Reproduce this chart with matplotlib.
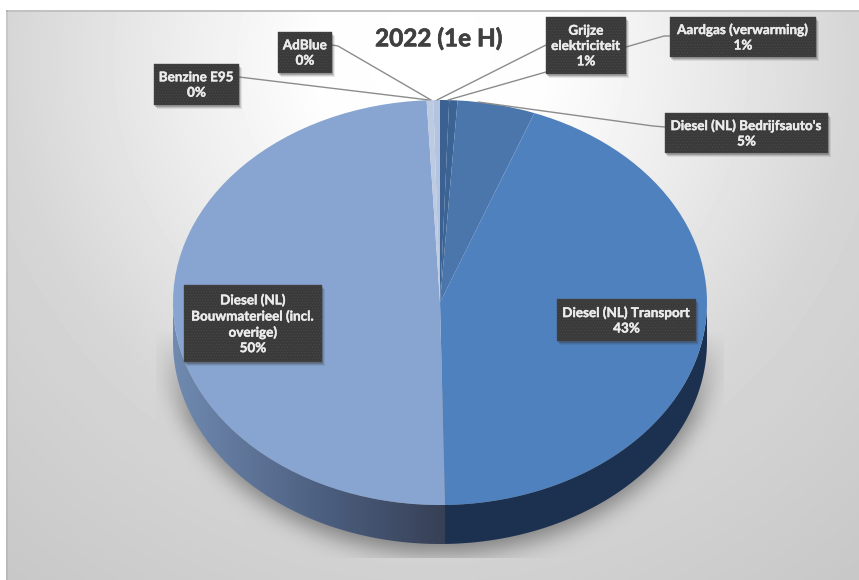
import numpy as np
import matplotlib
matplotlib.use("Agg")
import matplotlib.pyplot as plt
import matplotlib.patheffects as pe
from matplotlib.patches import Rectangle, Polygon

plt.rcParams['font.family'] = ['Lato', 'DejaVu Sans']

# ---- data -------------------------------------------------------------
categories = ["Aardgas (verwarming)", "Grijze\nelektriciteit", "Diesel (NL) Bedrijfsauto's",
              "Diesel (NL) Transport", "Diesel (NL)\nBouwmaterieel (incl.\noverige)",
              "Benzine E95", "AdBlue"]
values = [0.55, 0.5, 4.7, 43.95, 49.5, 0.4, 0.4]
percent_labels = ["1%", "1%", "5%", "43%", "50%", "0%", "0%"]
colors = ["#3a6191", "#3b6394", "#4a76ac", "#4f81bf", "#88a5d1", "#bccae2", "#b4c3de"]
title = "2022 (1e H)"

# ---- layout (pixels) ---------------------------------------------------
W, H = 859, 580
CX, CY, RX, RY, DEPTH = 440, 302.5, 267, 202.5, 39
boxes = [(670, 17, 816, 57), (546, 17, 626, 74), (665, 113, 828, 153),
         (557, 299, 696, 341), (184, 285, 322, 362), (154, 64, 239, 105), (278, 32, 332, 73)]
leaders = [[(670, 36), (664, 36), (626, 47), (546, 45), (437, 100)],
           [(546, 72), (448, 100)],
           [(665, 127), (653, 126), (478, 102)],
           [(239, 77), (429, 100)],
           [(332, 45), (338, 46), (431, 100)]]

fig = plt.figure(figsize=(W / 100, H / 100), dpi=100, facecolor="white")

# ---- background with radial gradient and shadow ------------------------
yy, xx = np.mgrid[0:H, 0:W]
dist = np.hypot(xx - 430.0, yy - 60.0)
gray = np.interp(dist, [0, 120, 243, 422, 660], [255, 253, 238, 214, 200]) / 255.0

def blur(a, s):
    r = int(3 * s)
    k = np.exp(-0.5 * (np.arange(-r, r + 1) / s) ** 2)
    k /= k.sum()
    a = np.apply_along_axis(lambda m: np.convolve(m, k, mode="same"), 0, a)
    return np.apply_along_axis(lambda m: np.convolve(m, k, mode="same"), 1, a)

mask = (((xx - CX) / (RX + 10.0)) ** 2 + ((yy - (CY + 26)) / (RY + 22.0)) ** 2 < 1).astype(float)
mask = blur(mask, 11)
mask *= np.clip((yy - 330) / 90.0, 0, 1)
mask *= (xx > 155) & (xx < 724) & (yy < 558)
gray = gray * (1 - 0.40 * mask)
gray[:10, :] = 1.0
gray[:, :6] = 1.0
gray[10:12, 6:] = 0.76
gray[10:, 6:8] *= 0.93

bg = fig.add_axes([0, 0, 1, 1])
bg.imshow(gray, cmap="gray", vmin=0, vmax=1, extent=(0, W, H, 0), aspect="auto", interpolation="bilinear")
bg.axis("off")

# ---- pie: unit circle mapped onto an ellipse ---------------------------
ax = fig.add_axes([0, 0, 1, 1])
ax.patch.set_alpha(0)
xlim = (-CX / RX, (W - CX) / RX)
ylim = ((CY - H) / RY, CY / RY)
d = DEPTH / RY

frac = np.cumsum(values) / np.sum(values)
split = np.deg2rad(90 - 360 * frac[3])  # Transport / Bouwmaterieel boundary

def wall(t):
    x, y = np.cos(t), np.sin(t)
    return np.r_[np.c_[x, y], np.c_[x, y - d][::-1]]

tL = np.linspace(split, -np.pi, 200)
tR = np.linspace(0, split, 200)
stops = [0, 0.55, 1]
cL = np.array([[0x70, 0x8a, 0xb0], [0x4c, 0x5f, 0x80], [0x36, 0x40, 0x55]]) / 255
imgL = np.stack([np.interp(np.linspace(0, 1, 256), stops, cL[:, i]) for i in range(3)], -1)[None, :, :]
im = ax.imshow(imgL, extent=(-1, np.cos(split), -1 - d, 0), aspect="auto", zorder=1)
im.set_clip_path(Polygon(wall(tL), transform=ax.transData))
ax.add_patch(Polygon(wall(tR), closed=True, fc="#1c3150", ec="none", zorder=1))

ax.pie(values, colors=colors, startangle=90, counterclock=False, radius=1,
       wedgeprops=dict(linewidth=0), frame=False)
for p in ax.patches:
    if isinstance(p, Polygon):
        continue
    p.set_zorder(2)
ax.set_aspect("auto")
ax.set_xlim(*xlim)
ax.set_ylim(*ylim)
ax.axis("off")

# ---- labels in pixel coordinates ---------------------------------------
ov = fig.add_axes([0, 0, 1, 1])
ov.patch.set_alpha(0)
ov.set_xlim(0, W)
ov.set_ylim(H, 0)
ov.axis("off")

for pts in leaders:
    xsl, ysl = zip(*pts)
    ov.plot(xsl, ysl, color="#8c8c8c", lw=1.0, zorder=2, solid_capstyle="round")

plt.rcParams['hatch.linewidth'] = 0.4
for (x0, y0, x1, y1), cat, pct in zip(boxes, categories, percent_labels):
    for off, al in [(3.5, 0.10), (2.5, 0.15), (1.5, 0.25)]:
        ov.add_patch(Rectangle((x0 + off - 1, y0 + off), x1 - x0, y1 - y0, fc="#333333", ec="none", alpha=al, zorder=3))
    ov.add_patch(Rectangle((x0, y0), x1 - x0, y1 - y0, fc="#3a3a3a", ec="#4a4a4a", lw=0.3, hatch="......", zorder=4))
    t = ov.text((x0 + x1) / 2, (y0 + y1) / 2 + 0.5, f"{cat}\n{pct}", color="#ebebeb", fontsize=9.7, fontweight="bold",
                ha="center", va="center", linespacing=1.33, zorder=5)
    t.set_path_effects([pe.withStroke(linewidth=0.3, foreground="#ebebeb")])

t = ov.text(438.5, 38.5, title, color="#404040", fontsize=17.5, fontweight="bold", ha="center", va="center", zorder=5)
t.set_path_effects([pe.withStroke(linewidth=0.5, foreground="#404040")])

fig.savefig("out.png", dpi=100, facecolor="white")
